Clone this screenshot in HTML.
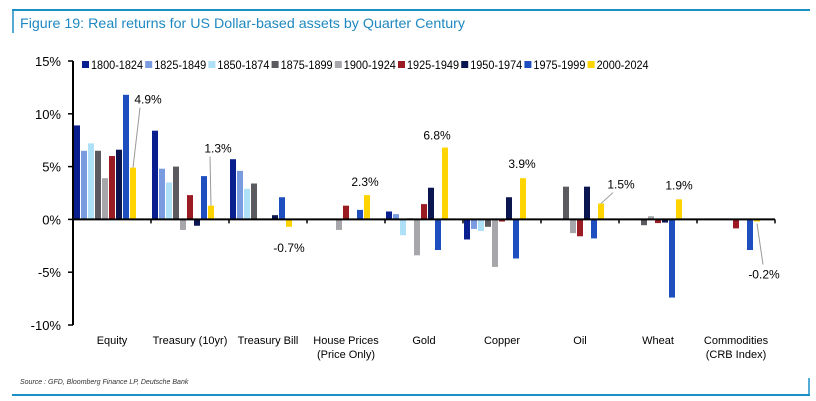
<!DOCTYPE html>
<html><head><meta charset="utf-8"><style>
body{margin:0;background:#fff;width:816px;height:401px;overflow:hidden;font-family:"Liberation Sans",sans-serif}
svg{display:block}
</style></head><body>
<svg id="chart" width="816" height="401">
<line x1="12" y1="10" x2="810" y2="10" stroke="#1a8fc8" stroke-width="2"/>
<line x1="13" y1="10" x2="13" y2="33" stroke="#1a8fc8" stroke-width="1.5"/>
<text x="20" y="28" font-size="14" fill="#1e88c0" textLength="445" lengthAdjust="spacingAndGlyphs">Figure 19: Real returns for US Dollar-based assets by Quarter Century</text>
<line x1="12" y1="395" x2="810" y2="395" stroke="#1a8fc8" stroke-width="2"/>
<line x1="809" y1="378" x2="809" y2="395" stroke="#1a8fc8" stroke-width="1.5"/>
<text x="20" y="384" font-size="7" font-style="italic" fill="#333">Source : GFD, Bloomberg Finance LP, Deutsche Bank</text>
<g id="plot"></g>
</svg>
<script>
const categories=["Equity","Treasury (10yr)","Treasury Bill","House Prices|(Price Only)","Gold","Copper","Oil","Wheat","Commodities|(CRB Index)"];
const seriesNames=["1800-1824","1825-1849","1850-1874","1875-1899","1900-1924","1925-1949","1950-1974","1975-1999","2000-2024"];
const colors=["#0a1f8f","#7a9be0","#aee0f8","#5a5a60","#a6a6ab","#9b1b22","#0b1650","#1f4fbf","#ffd400"];
const s1800=[8.9,8.4,5.7,0,0.75,-1.9,0,0,0];
const s1825=[6.5,4.8,4.6,0,0.5,-0.9,0,0,0];
const s1850=[7.2,3.5,2.9,0,-1.5,-1.1,0,0.1,0];
const s1875=[6.5,5.0,3.4,0,0.1,-0.7,3.1,-0.55,0];
const s1900=[3.9,-1.0,0,-1.0,-3.4,-4.5,-1.3,0.3,0];
const s1925=[6.0,2.3,0,1.3,1.45,-0.2,-1.6,-0.35,-0.85];
const s1950=[6.6,-0.6,0.4,0,3.0,2.1,3.1,-0.3,0];
const s1975=[11.8,4.1,2.1,0.9,-2.9,-3.7,-1.8,-7.4,-2.9];
const s2000=[4.9,1.3,-0.7,2.3,6.8,3.9,1.5,1.9,-0.2];
const series=[s1800,s1825,s1850,s1875,s1900,s1925,s1950,s1975,s2000];
const yTicks=[15,10,5,0,-5,-10];
const NS="http://www.w3.org/2000/svg";
const g=document.getElementById("plot");
const x0=73,catW=78,yTop=61,yBot=325,yMax=15,yMin=-10;
function y(v){return yTop+(yMax-v)/(yMax-yMin)*(yBot-yTop);}
function xc(i){return x0+i*catW;}
function mk(t,a){const e=document.createElementNS(NS,t);for(const k in a)e.setAttribute(k,a[k]);g.appendChild(e);return e;}
series.forEach((s,si)=>{s.forEach((v,ci)=>{if(v===0)return;
 const b=mk("rect",{x:xc(ci)+1+si*7,y:Math.min(y(v),y(0)),width:6,height:Math.max(Math.abs(y(v)-y(0)),1),fill:colors[si]});
 
 });});
const ya=mk("line",{x1:x0,y1:yTop,x2:x0,y2:yBot,stroke:"#000","stroke-width":2});


yTicks.forEach(t=>{const tk=mk("line",{x1:x0-5,y1:y(t),x2:x0,y2:y(t),stroke:"#000","stroke-width":1.5});
 
 
 const tl=mk("text",{x:x0-12,y:y(t)+5,"font-size":13,"text-anchor":"end",fill:"#000"});tl.textContent=t+"%";
 
 });
const xa=mk("line",{x1:x0,y1:y(0),x2:x0+categories.length*catW,y2:y(0),stroke:"#000","stroke-width":2});


categories.forEach((c,i)=>{const tk=mk("line",{x1:xc(i+1),y1:y(0),x2:xc(i+1),y2:y(0)+4,stroke:"#000","stroke-width":1.5});
 
 
 c.split("|").forEach((ln,k)=>{const t=mk("text",{x:xc(i)+catW/2,y:344+k*14,"font-size":11,"text-anchor":"middle",fill:"#000"});t.textContent=ln;
 
 });});
seriesNames.forEach((n,i)=>{const lx=82+i*63.2;
 const r=mk("rect",{x:lx,y:61,width:7,height:7,fill:colors[i]});
 
 
 const t=mk("text",{x:lx+9,y:69,"font-size":12,fill:"#000",textLength:52,lengthAdjust:"spacingAndGlyphs"});t.textContent=n;
 
 });
const annDx=[15,7,0,-2,-8,-1,20,0,7];
const annDy=[-64,-53,25,-9,-8,-10,-15,-10,57];
const leader=[true,true,false,false,false,false,true,false,true];
s2000.forEach((v,i)=>{const bx=xc(i)+1+8*7+3;const by=y(v);const tx=bx+annDx[i];const ty=by+annDy[i];
 if(leader[i]){const l=mk("line",{x1:bx,y1:v>=0?by:by+2,x2:v>=0?tx-8:tx-1,y2:v>=0?ty+4:ty-14,stroke:"#999","stroke-width":1});
  
  }
 const t=mk("text",{x:tx,y:ty,"font-size":12,"text-anchor":"middle",fill:"#000"});t.textContent=v.toFixed(1)+"%";
 
 });
</script>
</body></html>
